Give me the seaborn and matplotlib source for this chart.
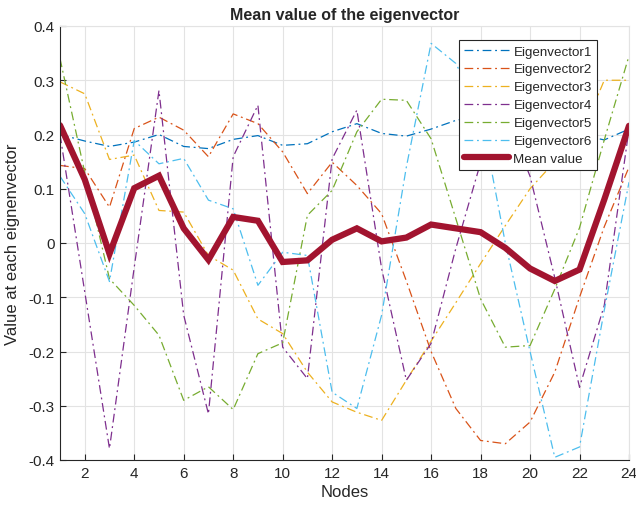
import matplotlib
matplotlib.use("Agg")
import matplotlib.pyplot as plt
import seaborn as sns
import pandas as pd

nodes = list(range(1, 25))

eig1 = [0.200, 0.188, 0.178, 0.186, 0.200, 0.178, 0.174, 0.191, 0.198, 0.180, 0.183, 0.205,
        0.220, 0.202, 0.197, 0.210, 0.226, 0.235, 0.235, 0.215, 0.210, 0.200, 0.190, 0.210]
eig2 = [0.143, 0.137, 0.066, 0.211, 0.232, 0.208, 0.159, 0.238, 0.220, 0.168, 0.091, 0.149,
        0.106, 0.054, -0.070, -0.200, -0.305, -0.364, -0.370, -0.330, -0.238, -0.100, 0.030, 0.140]
eig3 = [0.297, 0.275, 0.154, 0.162, 0.060, 0.057, -0.023, -0.050, -0.140, -0.167, -0.238, -0.293,
        -0.312, -0.327, -0.253, -0.181, -0.110, -0.038, 0.032, 0.100, 0.150, 0.191, 0.300, 0.300]
eig4 = [0.200, -0.090, -0.379, -0.045, 0.281, -0.133, -0.315, 0.159, 0.254, -0.192, -0.250, 0.155,
        0.245, -0.047, -0.253, -0.185, -0.010, 0.148, 0.237, 0.123, -0.064, -0.266, -0.115, 0.210]
eig5 = [0.340, 0.130, -0.066, -0.115, -0.170, -0.290, -0.265, -0.307, -0.204, -0.184, 0.051, 0.097,
        0.205, 0.265, 0.263, 0.192, 0.045, -0.103, -0.192, -0.189, -0.085, 0.028, 0.190, 0.345]
eig6 = [0.123, 0.054, -0.071, 0.189, 0.146, 0.156, 0.079, 0.063, -0.078, -0.017, -0.023, -0.275,
        -0.305, -0.133, 0.140, 0.368, 0.331, 0.240, 0.000, -0.200, -0.395, -0.376, -0.124, 0.112]
mean_vals = [0.217, 0.117, -0.020, 0.101, 0.124, 0.027, -0.031, 0.048, 0.041, -0.035, -0.032, 0.006,
             0.027, 0.003, 0.010, 0.034, 0.027, 0.020, -0.009, -0.047, -0.070, -0.049, 0.080, 0.216]

series_names = ["Eigenvector1", "Eigenvector2", "Eigenvector3", "Eigenvector4",
                "Eigenvector5", "Eigenvector6"]
series_vals = [eig1, eig2, eig3, eig4, eig5, eig6]
colors = ["#0072BD", "#D95319", "#EDB120", "#7E2F8E", "#77AC30", "#4DBEEE"]
mean_color = "#A2142F"

xticks = list(range(2, 25, 2))
yticks = [-0.4, -0.3, -0.2, -0.1, 0, 0.1, 0.2, 0.3, 0.4]
ytick_labels = ["-0.4", "-0.3", "-0.2", "-0.1", "0", "0.1", "0.2", "0.3", "0.4"]

sns.set_theme(style="white")
plt.rcParams['font.family'] = ['Liberation Sans', 'DejaVu Sans']

fig = plt.figure(figsize=(6.36, 5.10), dpi=100)
ax = fig.add_axes([60/636, 49/510, 569/636, 434/510])

dash = (0, (7, 3, 1.5, 3))
for name, vals, c in zip(series_names, series_vals, colors):
    df = pd.DataFrame({"Nodes": nodes, "v": vals})
    sns.lineplot(data=df, x="Nodes", y="v", ax=ax, color=c, linewidth=0.9,
                 linestyle=dash, label=name)
dfm = pd.DataFrame({"Nodes": nodes, "v": mean_vals})
sns.lineplot(data=dfm, x="Nodes", y="v", ax=ax, color=mean_color, linewidth=4.5,
             label="Mean value", solid_joinstyle="miter")

ax.set_xlim(1, 24)
ax.set_ylim(-0.4, 0.4)
ax.set_xticks(xticks)
ax.set_yticks(yticks)
ax.set_yticklabels(ytick_labels)
ax.grid(True, color="#e3e3e3", linewidth=0.8)
ax.set_axisbelow(True)
for s in ["left", "bottom"]:
    ax.spines[s].set_color("#262626")
    ax.spines[s].set_linewidth(0.8)
for s in ["top", "right"]:
    ax.spines[s].set_color("#e3e3e3")
    ax.spines[s].set_linewidth(0.8)
ax.tick_params(axis="both", direction="in", length=4, width=0.8, color="#262626",
               labelsize=11, labelcolor="#262626", left=True, bottom=True, pad=4)

ax.set_title("Mean value of the eigenvector", fontsize=11.5, fontweight="bold", pad=5)
ax.set_xlabel("Nodes", fontsize=12, color="#262626", labelpad=3)
ax.set_ylabel("Value at each eignenvector", fontsize=12, color="#262626", labelpad=6)

leg = ax.legend(loc="upper right", bbox_to_anchor=(0.944, 0.968), borderaxespad=0,
                fontsize=9.6, frameon=True, fancybox=False, framealpha=1,
                edgecolor="#262626", handlelength=3.4, labelspacing=0.42,
                borderpad=0.4, handletextpad=0.3)
leg.get_frame().set_linewidth(0.8)

fig.savefig("out.png", dpi=100)
